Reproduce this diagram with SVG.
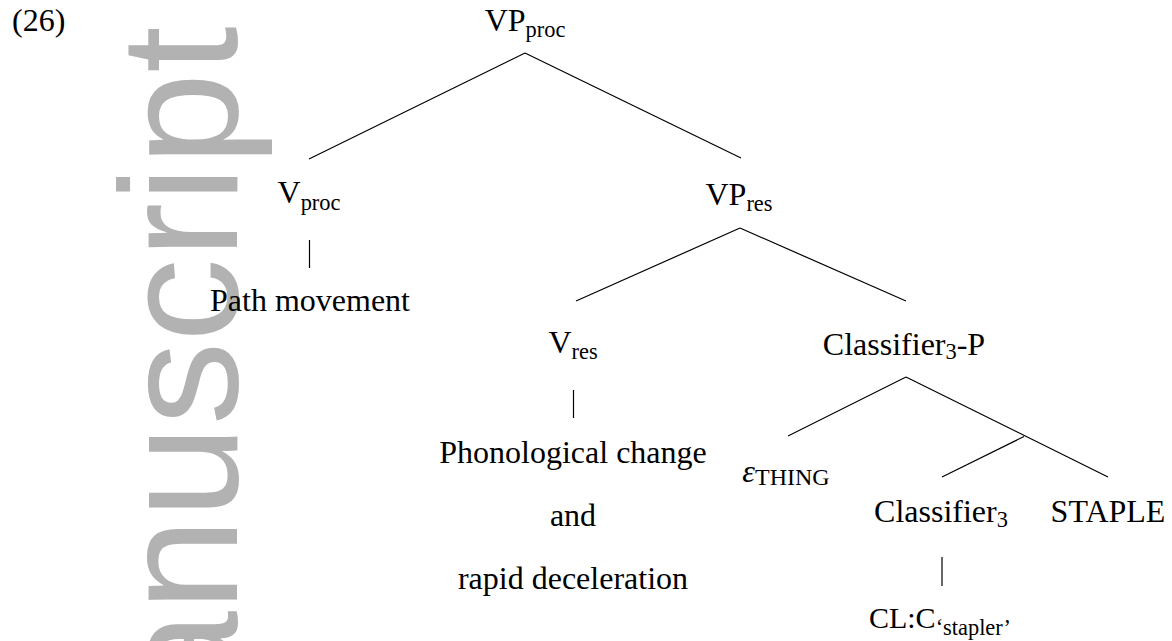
<svg xmlns="http://www.w3.org/2000/svg" width="1172" height="641" viewBox="0 0 1172 641">
<style>
text{font-family:"Liberation Serif","Times New Roman","DejaVu Serif",serif;font-size:32px;fill:#000}
.n{text-anchor:middle}
.sub{font-size:22.4px}
.wm{font-family:"Liberation Sans",Arial,sans-serif;font-size:167px;fill:#b2b2b2}
.e line{stroke:#000;stroke-width:1.2;fill:none}
</style>
<rect width="1172" height="641" fill="#fff"/>
<text class="wm" transform="translate(237,843) rotate(-90)">manuscript</text>
<text x="12" y="31">(26)</text>
<g id="connectors" class="e">
<line x1="525" y1="53" x2="309" y2="159"/>
<line x1="525" y1="53" x2="741" y2="158"/>
<line x1="309.5" y1="240" x2="309.5" y2="268"/>
<line x1="740" y1="228" x2="576" y2="301"/>
<line x1="740" y1="228" x2="906" y2="301"/>
<line x1="573.5" y1="390" x2="573.5" y2="418"/>
<line x1="906" y1="377" x2="788" y2="436"/>
<line x1="906" y1="377" x2="1108" y2="477"/>
<line x1="1024" y1="436.5" x2="942" y2="477"/>
<line x1="942" y1="557" x2="942" y2="586"/>
</g>
<g id="vp-proc"><text class="n" x="525" y="31">VP<tspan class="sub" dy="6">proc</tspan></text></g>
<g id="v-proc"><text class="n" x="309" y="203">V<tspan class="sub" dy="7">proc</tspan></text></g>
<g id="path-movement"><text class="n" x="310" y="311">Path movement</text></g>
<g id="vp-res"><text class="n" x="739" y="205">VP<tspan class="sub" dy="6">res</tspan></text></g>
<g id="v-res"><text class="n" x="573" y="353">V<tspan class="sub" dy="6">res</tspan></text></g>
<g id="phon"><text class="n" x="573" y="463">Phonological change</text><text class="n" x="573" y="526">and</text><text class="n" x="573" y="589">rapid deceleration</text></g>
<g id="cl3p"><text class="n" x="904" y="355">Classifier<tspan class="sub" dy="4">3</tspan><tspan dy="-4">-P</tspan></text></g>
<g id="eps-thing"><text class="n" x="786" y="482"><tspan font-style="italic">ε</tspan><tspan font-size="24" dy="3">THING</tspan></text></g>
<g id="cl3"><text class="n" x="941" y="522">Classifier<tspan class="sub" dy="5">3</tspan></text></g>
<g id="staple"><text class="n" x="1108" y="522">STAPLE</text></g>
<g id="clc"><text class="n" x="940" y="628"><tspan font-size="30">CL:C</tspan><tspan class="sub" dy="7">‘stapler’</tspan></text></g>
</svg>
